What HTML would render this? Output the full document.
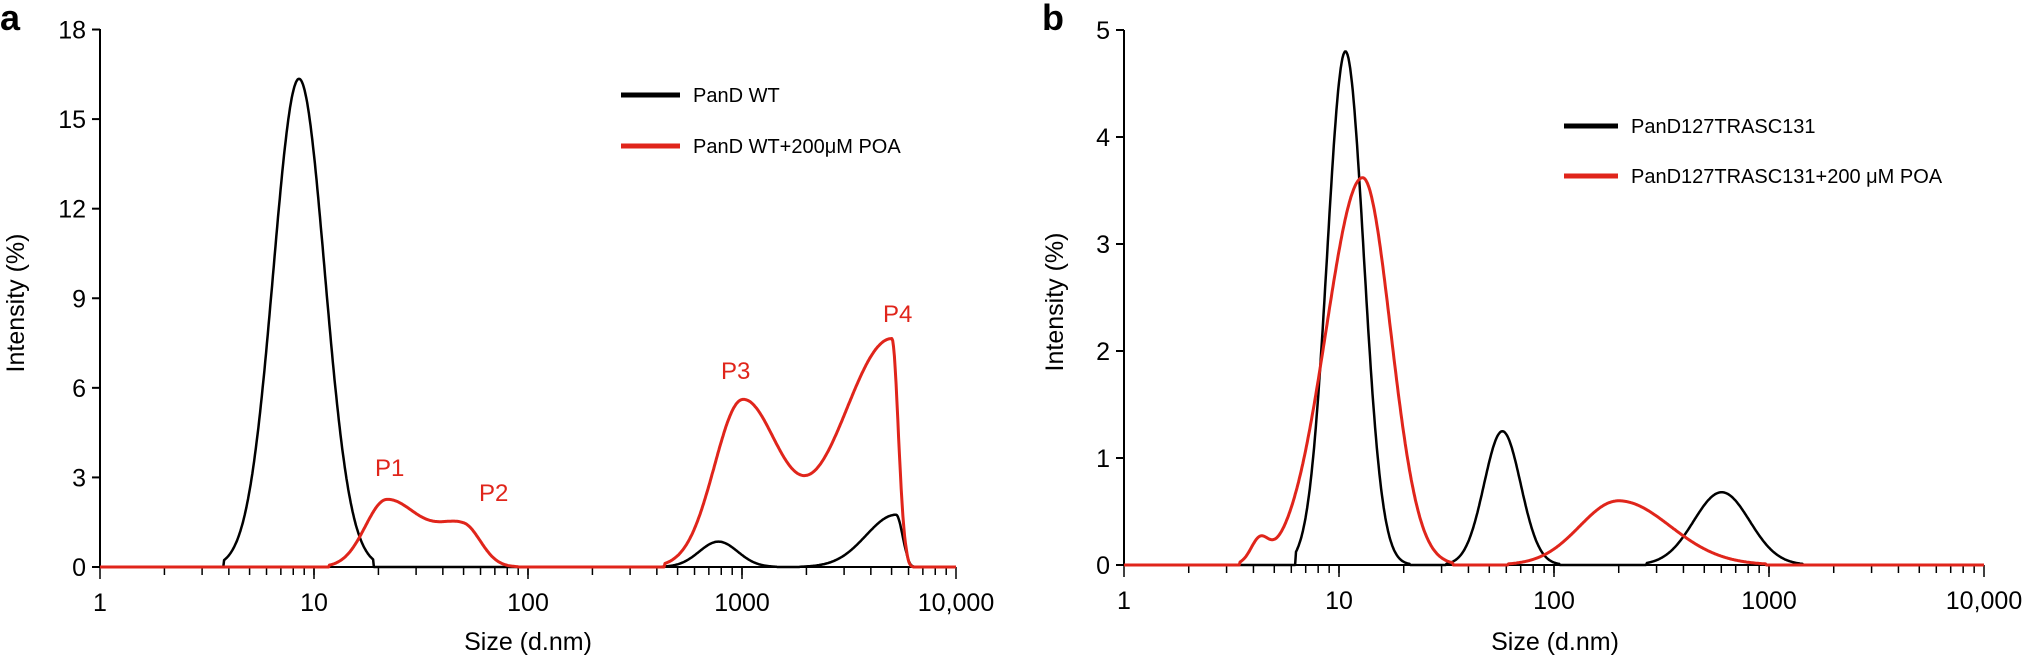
<!DOCTYPE html>
<html><head><meta charset="utf-8"><style>
body{margin:0;background:#fff}
svg text{font-family:"Liberation Sans",Arial,sans-serif}
</style></head><body>
<svg id="s" width="2030" height="660" xmlns="http://www.w3.org/2000/svg">
<text x="0" y="30" font-size="36" font-weight="bold">a</text>
<text x="1042" y="30" font-size="36" font-weight="bold">b</text>
<text transform="translate(24,303) rotate(-90)" font-size="25" text-anchor="middle">Intensity (%)</text>
<text transform="translate(1063,302) rotate(-90)" font-size="25" text-anchor="middle">Intensity (%)</text>
<text x="528" y="650" font-size="25" text-anchor="middle">Size (d.nm)</text>
<text x="1555" y="650" font-size="25" text-anchor="middle">Size (d.nm)</text>
<g font-size="20">
<line x1="621" y1="95" x2="680" y2="95" stroke="#000" stroke-width="5"/>
<text x="693" y="102">PanD WT</text>
<line x1="621" y1="146" x2="680" y2="146" stroke="#e0251b" stroke-width="5"/>
<text x="693" y="153">PanD WT+200μM POA</text>
<line x1="1564" y1="126" x2="1618" y2="126" stroke="#000" stroke-width="5"/>
<text x="1631" y="133">PanD127TRASC131</text>
<line x1="1564" y1="176" x2="1618" y2="176" stroke="#e0251b" stroke-width="5"/>
<text x="1631" y="183">PanD127TRASC131+200 μM POA</text>
</g>
<g font-size="24" fill="#e0251b">
<text x="375" y="476">P1</text>
<text x="479" y="501">P2</text>
<text x="721" y="379">P3</text>
<text x="883" y="322">P4</text>
</g>
<g id="g"></g>
</svg>
<script>
var g=document.getElementById('g'),h='';
function G(x,c,s,a){return a*Math.exp(-0.5*Math.pow((x-c)/s,2));}
function A(x,c,sl,sr,a){return G(x,c,x<c?sl:sr,a);}
function win(x,a,b){return (x<a||x>b)?0:1;}
function axes(x0,y0,dec,ymax,ystep,yunit,ytop){
 h+='<line x1="'+x0+'" y1="'+ytop+'" x2="'+x0+'" y2="'+y0+'" stroke="#000" stroke-width="2"/>';
 h+='<line x1="'+x0+'" y1="'+y0+'" x2="'+(x0+4*dec)+'" y2="'+y0+'" stroke="#000" stroke-width="2"/>';
 for(var v=0;v<=ymax+1e-9;v+=ystep){var y=y0-v*yunit;
  h+='<line x1="'+(x0-8)+'" y1="'+y+'" x2="'+x0+'" y2="'+y+'" stroke="#000" stroke-width="2"/>';
  h+='<text x="'+(x0-14)+'" y="'+(y+9)+'" font-size="25" text-anchor="end">'+v+'</text>';}
 for(var d=0;d<4;d++)for(var k=1;k<=10;k++){var x=x0+dec*(d+Math.log10(k));
  var L=k==10||(d==0&&k==1)?12:8;
  h+='<line x1="'+x+'" y1="'+y0+'" x2="'+x+'" y2="'+(y0+L)+'" stroke="#000" stroke-width="1.5"/>';}
 var lb=['1','10','100','1000','10,000'];
 for(var i=0;i<5;i++)h+='<text x="'+(x0+dec*i)+'" y="'+(y0+44)+'" font-size="25" text-anchor="middle">'+lb[i]+'</text>';
}
function curve(f,x0,y0,dec,yunit,col,w){
 var p=[];for(var t=0;t<=4.0001;t+=0.004){var v=f(t);if(v<0.01)v=0;p.push((x0+dec*t).toFixed(1)+','+(y0-v*yunit).toFixed(1));}
 h+='<polyline points="'+p.join(' ')+'" fill="none" stroke="'+col+'" stroke-width="'+w+'" stroke-linejoin="round"/>';
}
var ax=100,ay=567,ad=214,au=29.86;
axes(ax,ay,ad,18,3,au,29);
curve(function(t){return win(t,0.58,1.28)*A(t,0.93,0.12,0.12,16.35)+win(t,2.59,3.82)*(G(t,2.89,0.09,0.85)+A(t,3.72,0.14,0.03,1.75)*Math.min(1,(3.82-t)/0.05));},ax,ay,ad,au,'#000',2.5);
curve(function(t){return win(t,1.07,1.98)*(A(t,1.34,0.1,0.16,2.25)+A(t,1.7,0.12,0.08,1.3))+win(t,2.64,3.81)*(A(t,3.0,0.13,0.17,5.5)+A(t,3.70,0.24,0.03,7.65)*Math.min(1,(3.81-t)/0.04));},ax,ay,ad,au,'#e0251b',3);
var bx=1124,by=565,bd=215,bu=107;
axes(bx,by,bd,5,1,bu,30);
curve(function(t){return win(t,0.8,1.34)*G(t,1.03,0.085,4.8)+win(t,1.5,2.06)*G(t,1.76,0.085,1.25)+win(t,2.43,3.27)*G(t,2.78,0.13,0.68);},bx,by,bd,bu,'#000',2.5);
curve(function(t){return win(t,0.54,1.53)*(A(t,1.11,0.17,0.13,3.62)+G(t,0.63,0.04,0.2))+win(t,1.75,3.12)*A(t,2.3,0.18,0.24,0.6);},bx,by,bd,bu,'#e0251b',3);
g.innerHTML=h;
</script>
</body></html>
